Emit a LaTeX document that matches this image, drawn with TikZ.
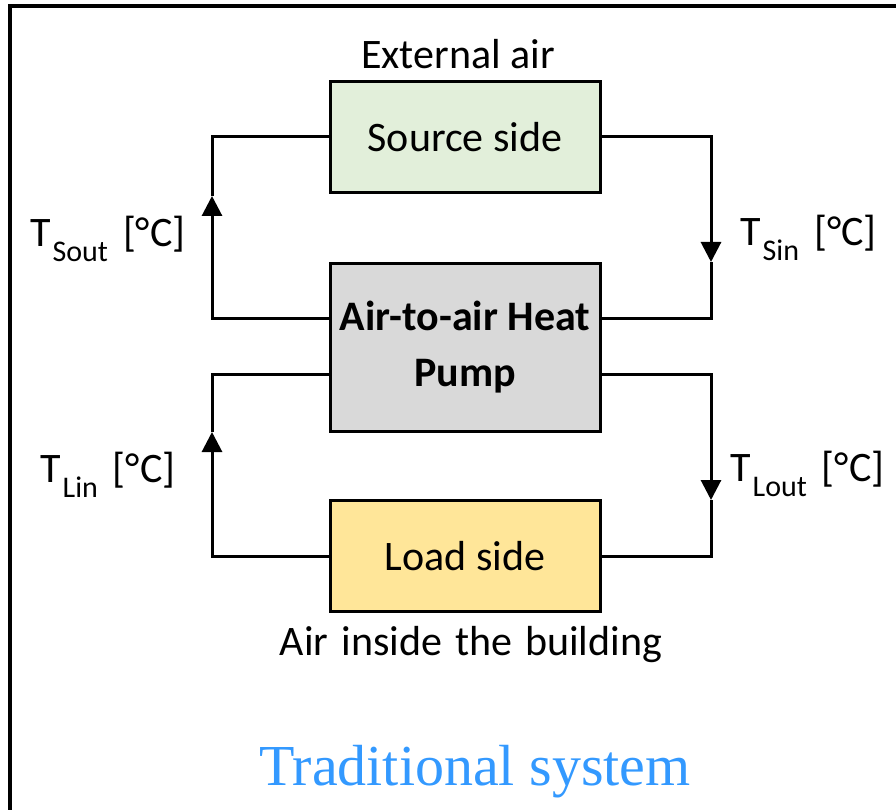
\documentclass[tikz,border=0pt]{standalone}
\usepackage{fontspec}
\setmainfont{Carlito}
\newfontfamily\titlefont{Liberation Serif}
\usetikzlibrary{arrows.meta}
\definecolor{srcfill}{HTML}{E2EFDA}
\definecolor{hpfill}{HTML}{D9D9D9}
\definecolor{loadfill}{HTML}{FFE699}
\definecolor{titleblue}{HTML}{3399FF}
\newcommand\Tsub[1]{T\kern2pt\raisebox{-15pt}{\fontsize{30}{30}\selectfont #1}\hspace{15pt}[°C]}
\newcommand\wsp{\hspace{13pt}}
\tikzset{
  box/.style={draw=black, line width=3pt, minimum width=270pt, inner sep=0pt, align=center,
    font=\fontsize{42}{56}\selectfont},
  conn/.style={line width=3pt, line join=miter},
  tip/.style={-{Triangle[length=20pt,width=20pt]}},
  lbl/.style={inner sep=0pt, font=\fontsize{42}{50}\selectfont},
}
\begin{document}
\begin{tikzpicture}[x=1pt,y=-1pt]
\useasboundingbox (0,0) rectangle (896,810);
% frame
\coordinate (fbl) at (10,812);
\coordinate (ftl) at (10,6);
\coordinate (ftr) at (898,6);
\draw[line width=4pt] (fbl) -- (ftl) -- (ftr);
% boxes
\node[box, fill=srcfill, minimum height=111pt] (src) at (465,137) {Source side};
\node[box, fill=hpfill, minimum height=168pt, font=\fontsize{42}{56}\selectfont\bfseries] (hp) at (465,347) {Air-to-air Heat\\Pump};
\node[box, fill=loadfill, minimum height=111pt] (load) at (465,556) {Load side};
% coordinates
\coordinate (ya) at (0,318);
\coordinate (yb) at (0,374);
\coordinate (TLc1) at (212,318);
\coordinate (TLtip) at (212,196);
\coordinate (TLc2) at (212,137);
\coordinate (TRc1) at (711,137);
\coordinate (TRtip) at (711,262);
\coordinate (TRc2) at (711,318);
\coordinate (BLc1) at (212,556);
\coordinate (BLtip) at (212,432);
\coordinate (BLc2) at (212,374);
\coordinate (BRc1) at (711,374);
\coordinate (BRtip) at (711,500);
\coordinate (BRc2) at (711,556);
% connectors
\draw[conn,tip] (hp.west |- ya) -- (TLc1) -- (TLtip);
\draw[conn] (TLtip) -- (TLc2) -- (src.west);
\draw[conn,tip] (src.east) -- (TRc1) -- (TRtip);
\draw[conn] (TRtip) -- (TRc2) -- (hp.east |- ya);
\draw[conn,tip] (load.west) -- (BLc1) -- (BLtip);
\draw[conn] (BLtip) -- (BLc2) -- (hp.west |- yb);
\draw[conn,tip] (hp.east |- yb) -- (BRc1) -- (BRtip);
\draw[conn] (BRtip) -- (BRc2) -- (load.east);
% labels
\node[lbl, anchor=base] (ext) at (458,69) {External air};
\node[lbl, anchor=base] (inside) at (471,655) {Air\wsp inside\wsp the\wsp building};
\node[lbl, anchor=base west] (tsout) at (30,247) {\Tsub{Sout}};
\node[lbl, anchor=base west] (tsin) at (740,245) {\Tsub{Sin}};
\node[lbl, anchor=base west] (tlin) at (40,482) {\Tsub{Lin}};
\node[lbl, anchor=base west] (tlout) at (730,481) {\Tsub{Lout}};
\node[inner sep=0pt, anchor=base, text=titleblue, font=\titlefont\fontsize{58}{60}\selectfont] (title) at (475,785) {Traditional system};
\end{tikzpicture}
\end{document}
